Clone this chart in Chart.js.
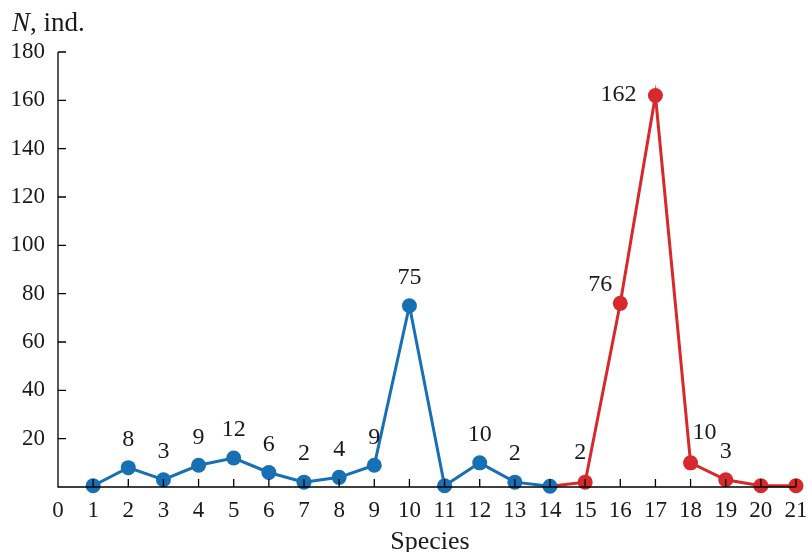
<!DOCTYPE html>
<html lang="en">
<head>
    <meta charset="UTF-8">
    <title>Species abundance</title>
    <script src="https://cdn.jsdelivr.net/npm/chart.js"></script>
    <style>
        body { margin: 0; background: #fff; }
    </style>
</head>
<body>
<canvas id="speciesChart" width="812" height="552"></canvas>

<script>
    // data
    const blueSpecies = [1, 2, 3, 4, 5, 6, 7, 8, 9, 10, 11, 12, 13, 14];
    const blueN = [0.5, 8, 3, 9, 12, 6, 2, 4, 9, 75, 0.5, 10, 2, 0.3];
    const blueLabels = ['', '8', '3', '9', '12', '6', '2', '4', '9', '75', '', '10', '2', ''];

    const redSpecies = [14, 15, 16, 17, 18, 19, 20, 21];
    const redN = [0.3, 2, 76, 162, 10, 3, 0.5, 0.5];
    const redLabels = ['', '2', '76', '162', '10', '3', '', ''];

    const xTicks = [0, 1, 2, 3, 4, 5, 6, 7, 8, 9, 10, 11, 12, 13, 14, 15, 16, 17, 18, 19, 20, 21];
    const yTicks = [20, 40, 60, 80, 100, 120, 140, 160, 180];

    const FONT = '"Liberation Serif", "DejaVu Serif", serif';
    const BLUE = '#176fb4';
    const RED = '#d7282b';

    function toPoints(xs, ys) {
        return xs.map((x, i) => ({ x: x, y: ys[i] }));
    }

    // axis lines with inward ticks, plus the point labels and axis titles
    const decorPlugin = {
        id: 'decor',
        afterDatasetsDraw(chart) {
            const ctx = chart.ctx;
            const xs = chart.scales.x;
            const ys = chart.scales.y;
            const x0 = xs.getPixelForValue(0);
            const y0 = ys.getPixelForValue(0);

            ctx.save();
            ctx.strokeStyle = '#000';
            ctx.lineWidth = 1.3;
            ctx.beginPath();
            ctx.moveTo(x0, ys.getPixelForValue(180));
            ctx.lineTo(x0, y0);
            ctx.lineTo(xs.getPixelForValue(21), y0);
            yTicks.forEach(v => {
                const py = ys.getPixelForValue(v);
                ctx.moveTo(x0, py);
                ctx.lineTo(x0 + 8, py);
            });
            xTicks.slice(1).forEach(v => {
                const px = xs.getPixelForValue(v);
                ctx.moveTo(px, y0);
                ctx.lineTo(px, y0 - 8);
            });
            ctx.stroke();

            // value labels
            ctx.fillStyle = '#1a1a1a';
            ctx.font = '24px ' + FONT;
            ctx.textAlign = 'center';
            ctx.textBaseline = 'middle';
            const special = { '76': [-20, -19], '162': [-37, -1], '10': [14, -30], '2': [-5, -29] };
            chart.data.datasets.forEach((ds, di) => {
                const meta = chart.getDatasetMeta(di);
                ds.labels.forEach((txt, i) => {
                    if (!txt) return;
                    const el = meta.data[i];
                    let off = [0, -28];
                    if (di === 1 && special[txt]) off = special[txt];
                    ctx.fillText(txt, el.x + off[0], el.y + off[1]);
                });
            });

            // axis titles
            ctx.textAlign = 'left';
            ctx.textBaseline = 'alphabetic';
            ctx.font = 'italic 27px ' + FONT;
            ctx.fillText('N', 12, 31);
            const w = ctx.measureText('N').width;
            ctx.font = '27px ' + FONT;
            ctx.fillText(', ind.', 12 + w, 31);
            ctx.font = '26px ' + FONT;
            ctx.textAlign = 'center';
            ctx.fillText('Species', 430, 549);
            ctx.restore();
        }
    };

    const ctx = document.getElementById('speciesChart').getContext('2d');
    const speciesChart = new Chart(ctx, {
        type: 'line',
        data: {
            datasets: [{
                data: toPoints(blueSpecies, blueN),
                labels: blueLabels,
                borderColor: BLUE,
                backgroundColor: BLUE,
                borderWidth: 3,
                pointRadius: 7.5,
                pointBorderWidth: 0,
                clip: false
            }, {
                data: toPoints(redSpecies, redN),
                labels: redLabels,
                borderColor: RED,
                backgroundColor: RED,
                borderWidth: 3,
                pointRadius: redSpecies.map((s, i) => i === 0 ? 0 : 7.5),
                pointBorderWidth: 0,
                clip: false
            }]
        },
        options: {
            responsive: false,
            animation: false,
            layout: { padding: { left: 0, top: 52, right: 16, bottom: 0 } },
            plugins: {
                legend: { display: false },
                tooltip: { enabled: false }
            },
            scales: {
                x: {
                    type: 'linear',
                    min: 0,
                    max: 21,
                    grid: { display: false },
                    border: { display: false },
                    afterFit(scale) { scale.height = 65; },
                    afterBuildTicks(scale) { scale.ticks = xTicks.map(v => ({ value: v })); },
                    ticks: {
                        autoSkip: false,
                        maxRotation: 0,
                        padding: 2,
                        color: '#1a1a1a',
                        font: { family: FONT, size: 23 }
                    }
                },
                y: {
                    min: 0,
                    max: 180,
                    grid: { display: false },
                    border: { display: false },
                    afterFit(scale) { scale.width = 58; },
                    afterBuildTicks(scale) { scale.ticks = yTicks.map(v => ({ value: v })); },
                    ticks: {
                        padding: 5,
                        color: '#1a1a1a',
                        font: { family: FONT, size: 23 }
                    }
                }
            }
        },
        plugins: [decorPlugin]
    });
</script>
</body>
</html>
